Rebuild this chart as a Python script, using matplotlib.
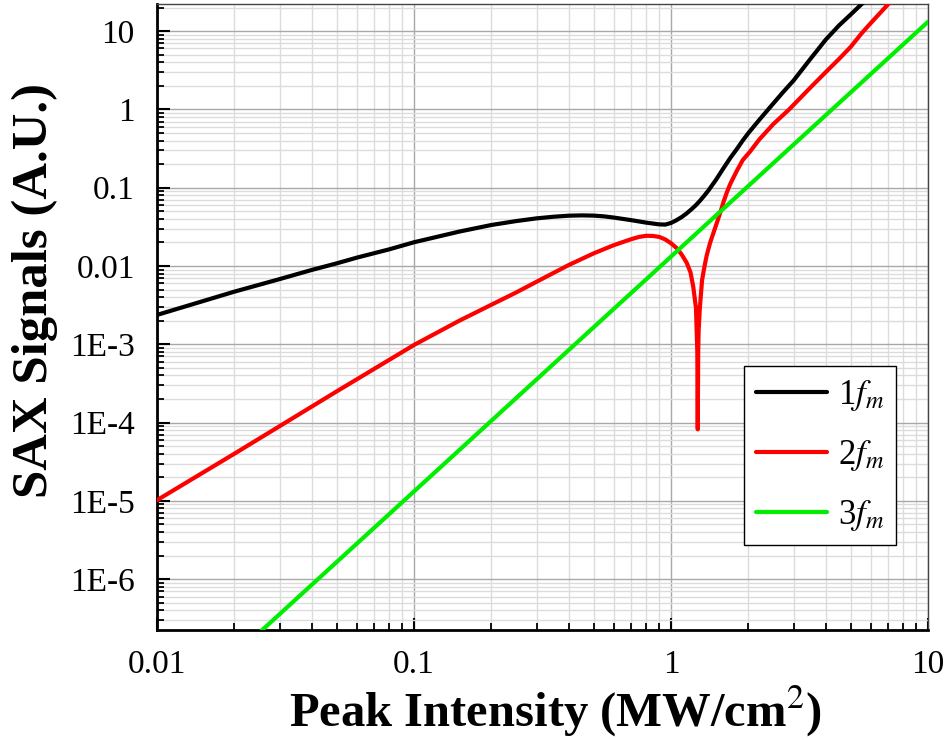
import numpy as np
import matplotlib
matplotlib.use("Agg")
import matplotlib.pyplot as plt
from matplotlib.ticker import LogLocator, FixedLocator, FixedFormatter, NullFormatter

# values
x_1f = [0.01, 0.02, 0.03, 0.04, 0.05, 0.06, 0.08, 0.1, 0.15, 0.2, 0.25, 0.3, 0.35,
        0.4, 0.45, 0.5, 0.55, 0.6, 0.7, 0.8, 0.9, 0.95, 1.0, 1.05, 1.1, 1.15, 1.2,
        1.25, 1.3, 1.35, 1.4, 1.5, 1.6, 1.7, 1.8, 1.9, 2.0, 2.2, 2.4, 2.7, 3.0,
        3.5, 4.0, 4.5, 5.0, 5.5, 6.0]
y_1f = [2.37e-3, 4.7e-3, 6.8e-3, 8.9e-3, 0.0108, 0.0128, 0.0163, 0.0201, 0.0275,
        0.0334, 0.0375, 0.0406, 0.0426, 0.0439, 0.0443, 0.0440, 0.0430, 0.0415,
        0.0385, 0.0358, 0.0340, 0.0338, 0.0355, 0.0385, 0.0422, 0.047, 0.053,
        0.060, 0.069, 0.080, 0.093, 0.128, 0.178, 0.24, 0.31, 0.40, 0.50, 0.73,
        1.02, 1.6, 2.35, 4.5, 7.8, 11.8, 16.3, 22.0, 28.0]

x_2f = [0.01, 0.02, 0.05, 0.1, 0.15, 0.2, 0.25, 0.3, 0.4, 0.5, 0.6, 0.7, 0.75,
        0.8, 0.85, 0.9, 0.95, 1.0, 1.05, 1.1, 1.15, 1.19, 1.22, 1.25, 1.265, 1.27,
        1.275, 1.28, 1.293, 1.32, 1.35, 1.377, 1.42, 1.46, 1.5, 1.55, 1.6, 1.65,
        1.7, 1.8, 1.9, 2.03, 2.2, 2.5, 2.88, 3.5, 4.0, 4.5, 5.0, 5.5, 6.0, 6.5,
        7.0, 7.5]
y_2f = [1.02e-5, 4.0e-5, 2.5e-4, 9.8e-4, 2.0e-3, 3.2e-3, 4.6e-3, 6.3e-3, 0.0103,
        0.0145, 0.0185, 0.0220, 0.0235, 0.0243, 0.0242, 0.0235, 0.0218, 0.0195,
        0.0170, 0.0140, 0.0110, 8.3e-3, 5.4e-3, 2.9e-3, 8.0e-4, 8.2e-5, 8.0e-4,
        1.5e-3, 2.8e-3, 6.6e-3, 0.0100, 0.0138, 0.0200, 0.0262, 0.034, 0.047,
        0.066, 0.088, 0.112, 0.163, 0.225, 0.29, 0.41, 0.65, 1.0, 1.93, 3.0, 4.4,
        6.3, 9.3, 12.8, 17.0, 22.2, 27.0]

x_3f = [0.02, 0.1, 1.0, 10.0]
y_3f = [1.06e-7, 1.32e-5, 0.0132, 13.2]

labels = [r'1$f_m$', r'2$f_m$', r'3$f_m$']
colors = ['black', '#ff0000', '#00ee00']

ytick_vals = [1e-6, 1e-5, 1e-4, 1e-3, 0.01, 0.1, 1, 10]
ytick_text = ['1E-6', '1E-5', '1E-4', '1E-3', '0.01', '0.1', '1', '10']
xtick_vals = [0.01, 0.1, 1, 10]
xtick_text = ['0.01', '0.1', '1', '10']

plt.rcParams['font.family'] = ['Liberation Serif', 'DejaVu Serif']
plt.rcParams['mathtext.fontset'] = 'stix'

fig = plt.figure(figsize=(9.49, 7.40), dpi=100)
ax = fig.add_axes([0.1654, 0.1486, 0.978 - 0.1654, 0.9946 - 0.1486])

for xs, ys, c, lab in zip([x_1f, x_2f, x_3f], [y_1f, y_2f, y_3f], colors, labels):
    ax.plot(xs, ys, color=c, lw=3.0, label=lab, solid_capstyle='round',
            solid_joinstyle='round', zorder=3)

ax.set_xscale('log')
ax.set_yscale('log')
ax.set_xlim(0.01, 10)
ax.set_ylim(2.24e-7, 22.2)

ax.xaxis.set_major_locator(FixedLocator(xtick_vals))
ax.xaxis.set_major_formatter(FixedFormatter(xtick_text))
ax.yaxis.set_major_locator(FixedLocator(ytick_vals))
ax.yaxis.set_major_formatter(FixedFormatter(ytick_text))
ax.xaxis.set_minor_locator(LogLocator(base=10, subs=np.arange(2, 10), numticks=20))
ax.yaxis.set_minor_locator(LogLocator(base=10, subs=np.arange(2, 10), numticks=20))
ax.xaxis.set_minor_formatter(NullFormatter())
ax.yaxis.set_minor_formatter(NullFormatter())

ax.tick_params(which='major', direction='in', length=9, width=1.5, labelsize=24)
ax.tick_params(which='minor', direction='in', length=5, width=1.3)
ax.tick_params(axis='y', which='major', pad=16)
ax.tick_params(axis='x', which='major', pad=14)

ax.grid(which='major', color='#a8a8a8', lw=1.0, zorder=0)
ax.grid(which='minor', color='#dcdcdc', lw=1.0, zorder=0)
ax.set_axisbelow(True)

for s in ['left', 'bottom']:
    ax.spines[s].set_linewidth(2.0)
    ax.spines[s].set_color('black')
for s in ['top', 'right']:
    ax.spines[s].set_linewidth(1.0)
    ax.spines[s].set_color('#444444')

ax.set_xlabel(r'Peak Intensity (MW/cm$^{\rm 2}$)', fontsize=35, fontweight='bold')
ax.set_ylabel('SAX Signals (A.U.)', fontsize=36.5, fontweight='bold')
ax.xaxis.set_label_coords(0.5175, -0.086)
ax.yaxis.set_label_coords(-0.128, 0.543)

leg = ax.legend(loc='lower right', bbox_to_anchor=(0.9585, 0.1358), fontsize=25,
                frameon=True, fancybox=False, framealpha=1, edgecolor='black',
                handlelength=2.05, handletextpad=0.3, labelspacing=0.72,
                borderpad=0.35, borderaxespad=0)
leg.get_frame().set_linewidth(1.0)

fig.savefig('out.png', dpi=100)
